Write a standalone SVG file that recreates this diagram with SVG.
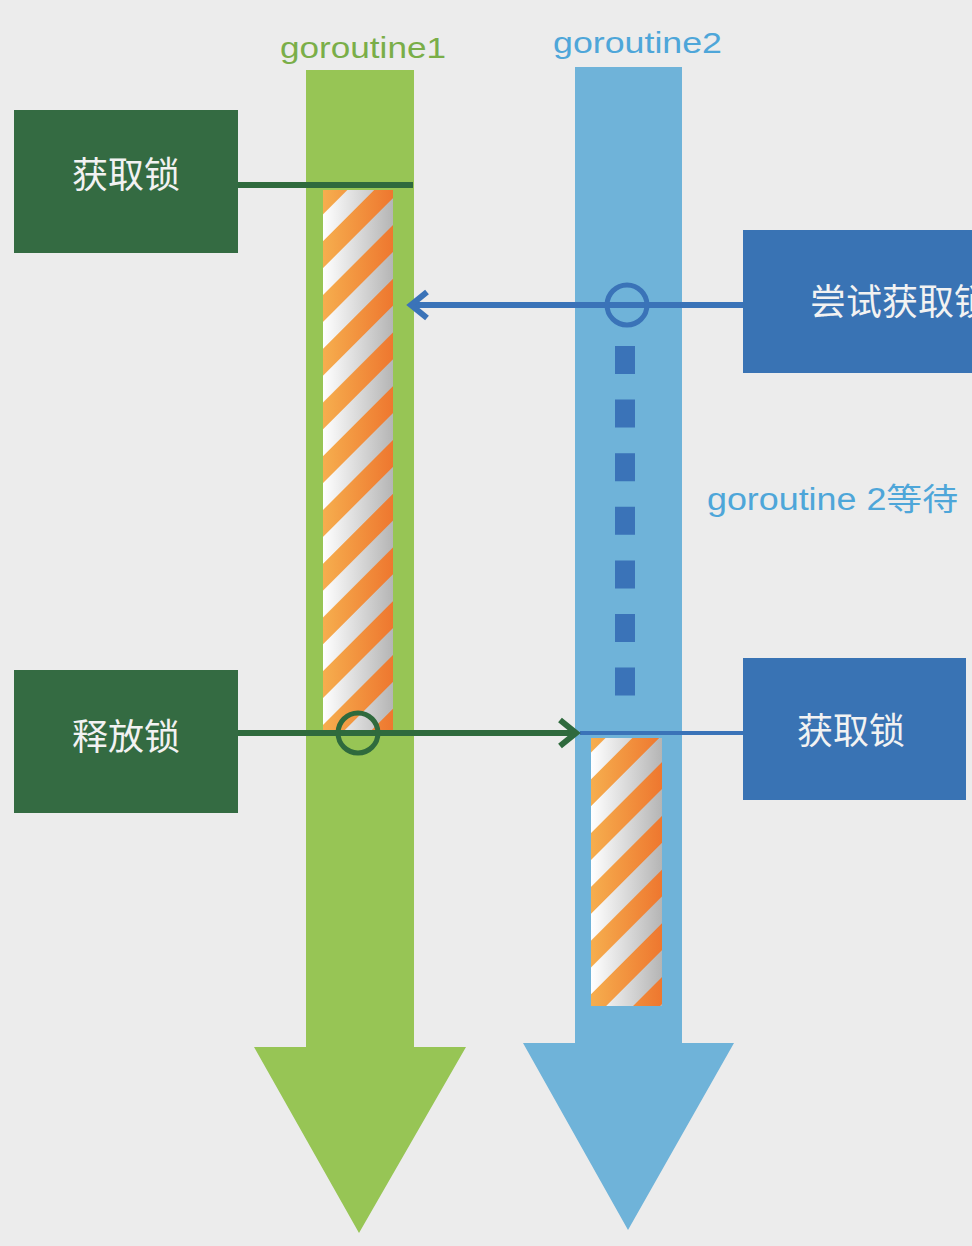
<svg xmlns="http://www.w3.org/2000/svg" width="972" height="1246" viewBox="0 0 972 1246">
  <style>
    .lane-title { font-family: "Liberation Sans", Arial, sans-serif; font-size: 30px; }
    .box-label { font-family: "Noto Sans CJK SC", "Noto Sans", sans-serif; font-size: 36px; fill: #f2f2f2; }
    .green-box { fill: #346b42; }
    .blue-box { fill: #3973b4; }
    .green-line { stroke: #2f6a3d; stroke-width: 6; fill: none; }
    .blue-line { stroke: #3a73b8; stroke-width: 6; fill: none; }
  </style>
  <defs>
    <!-- hatched "lock held" band: orange base with white/grey diagonal stripes -->
    <linearGradient id="orangeGrad" x1="0" y1="0" x2="1" y2="0">
      <stop offset="0" stop-color="#f6ae4e"/>
      <stop offset="1" stop-color="#ee772f"/>
    </linearGradient>
    <linearGradient id="silverGrad" x1="0" y1="0" x2="1" y2="0">
      <stop offset="0" stop-color="#ffffff"/>
      <stop offset="1" stop-color="#b5b5b5"/>
    </linearGradient>
    <pattern id="stripePat" patternUnits="userSpaceOnUse" width="38" height="38" patternTransform="rotate(45)">
      <rect x="0" y="0" width="19" height="38" fill="#fff"/>
    </pattern>
    <mask id="stripeMask" maskUnits="userSpaceOnUse" x="0" y="0" width="972" height="1246">
      <rect x="0" y="0" width="972" height="1246" fill="url(#stripePat)"/>
    </mask>
    <marker id="chevBlue" markerUnits="userSpaceOnUse" markerWidth="30" markerHeight="34" refX="0" refY="0" viewBox="-20 -17 26 34" orient="auto" overflow="visible">
      <path d="M -16 -13 L 0 0 L -16 13" fill="none" stroke="#3a73b8" stroke-width="6" stroke-linejoin="miter"/>
    </marker>
    <marker id="chevGreen" markerUnits="userSpaceOnUse" markerWidth="30" markerHeight="34" refX="0" refY="0" viewBox="-20 -17 26 34" orient="auto" overflow="visible">
      <path d="M -16 -13 L 0 0 L -16 13" fill="none" stroke="#2f6a3d" stroke-width="6" stroke-linejoin="miter"/>
    </marker>
  </defs>

  <rect x="0" y="0" width="972" height="1246" fill="#ececec"/>

  <!-- goroutine 1 timeline -->
  <g id="goroutine1">
    <path d="M306 70 H414 V1047 H466 L359 1233 L254 1047 H306 Z" fill="#97c555"/>
    <text class="lane-title" x="280" y="58" fill="#7aae48" textLength="166" lengthAdjust="spacingAndGlyphs">goroutine1</text>
    <g id="g1-hold">
      <rect x="323" y="190" width="70" height="541" fill="url(#orangeGrad)"/>
      <rect x="323" y="190" width="70" height="541" fill="url(#silverGrad)" mask="url(#stripeMask)"/>
    </g>
  </g>

  <!-- goroutine 2 timeline -->
  <g id="goroutine2">
    <path d="M575 67 H682 V1043 H734 L628 1230 L523 1043 H575 Z" fill="#6fb3d9"/>
    <text class="lane-title" x="553" y="53" fill="#4ea6d9" textLength="169" lengthAdjust="spacingAndGlyphs">goroutine2</text>
    <g id="g2-hold">
      <rect x="591" y="738" width="71" height="268" fill="url(#orangeGrad)"/>
      <rect x="591" y="738" width="71" height="268" fill="url(#silverGrad)" mask="url(#stripeMask)"/>
    </g>
    <text id="g2-wait-label" x="707" y="510" fill="#4ea6d9" font-family="'Liberation Sans', 'Noto Sans CJK SC', sans-serif" font-size="31" textLength="251" lengthAdjust="spacingAndGlyphs">goroutine 2等待</text>
  </g>

  <!-- action boxes -->
  <g id="g1-acquire">
    <rect class="green-box" x="14" y="110" width="224" height="143"/>
    <text class="box-label" x="126" y="188" text-anchor="middle">获取锁</text>
  </g>
  <g id="g1-release">
    <rect class="green-box" x="14" y="670" width="224" height="143"/>
    <text class="box-label" x="126" y="750" text-anchor="middle">释放锁</text>
  </g>
  <g id="g2-try">
    <rect class="blue-box" x="743" y="230" width="240" height="143"/>
    <text class="box-label" x="810" y="315">尝试获取锁</text>
  </g>
  <g id="g2-acquire">
    <rect class="blue-box" x="743" y="658" width="223" height="142"/>
    <text class="box-label" x="851" y="744" text-anchor="middle">获取锁</text>
  </g>

  <!-- connectors -->
  <g id="connectors">
    <line class="green-line" x1="238" y1="185" x2="413" y2="185"/>
    <line class="blue-line" x1="743" y1="305" x2="411" y2="305" marker-end="url(#chevBlue)"/>
    <circle cx="627" cy="305" r="20" fill="none" stroke="#3a73b8" stroke-width="5"/>
    <line x1="625" y1="346" x2="625" y2="697" stroke="#3a73b8" stroke-width="20" stroke-dasharray="28 25.6"/>
    <line x1="580" y1="733" x2="743" y2="733" stroke="#3a73b8" stroke-width="4"/>
    <line class="green-line" x1="238" y1="733" x2="576" y2="733" marker-end="url(#chevGreen)"/>
    <circle cx="358" cy="733" r="20" fill="none" stroke="#2f6a3d" stroke-width="5"/>
  </g>
</svg>
